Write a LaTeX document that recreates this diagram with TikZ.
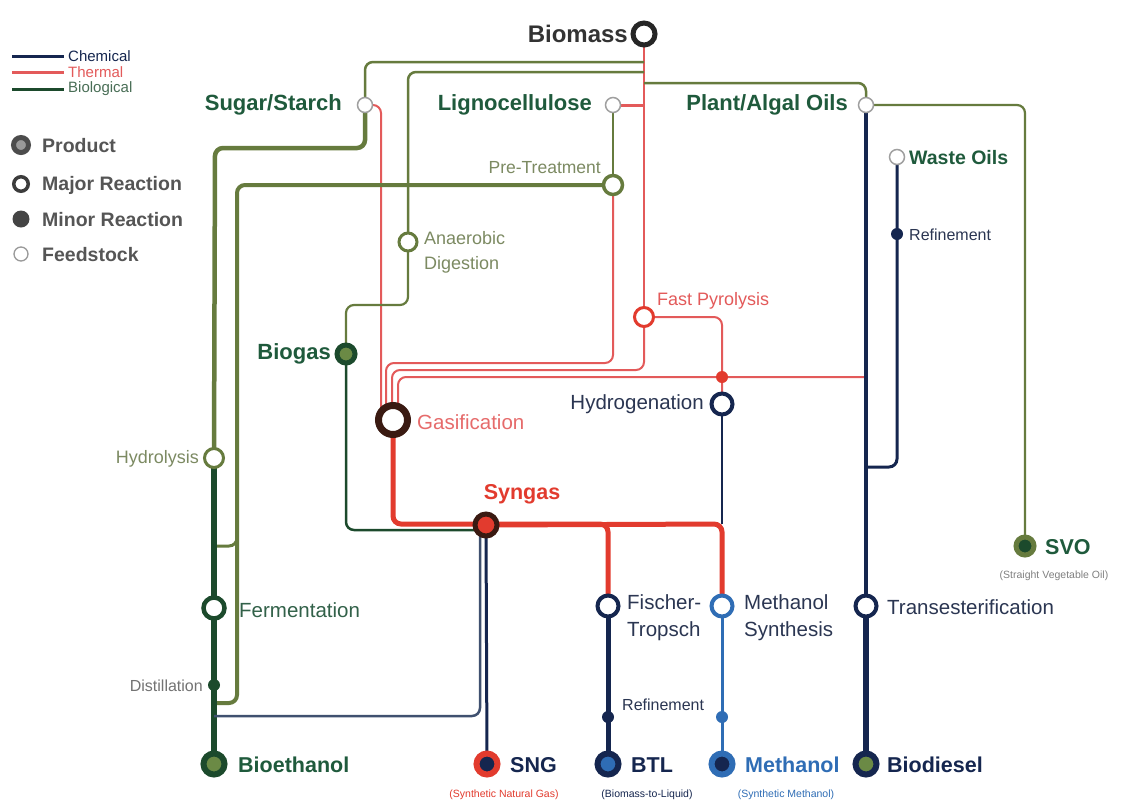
\documentclass[tikz,border=0pt]{standalone}
\usepackage{fontspec}
\setmainfont{Liberation Sans}
\usetikzlibrary{backgrounds}
\definecolor{navy}{HTML}{15264F}
\definecolor{rd}{HTML}{E23B2E}
\definecolor{lrd}{HTML}{E35A5A}
\definecolor{olv}{HTML}{667B3E}
\definecolor{dkg}{HTML}{1C4A2C}
\definecolor{tgreen}{HTML}{1F5A3C}
\definecolor{blu}{HTML}{2F6DB5}
\definecolor{slate}{HTML}{3F506F}
\definecolor{lgrey}{HTML}{555555}
\definecolor{olvtxt}{HTML}{7C8A62}
\definecolor{brn}{HTML}{3A1A12}
\definecolor{navytxt}{HTML}{2B3652}
\definecolor{prodfill}{HTML}{6B8A45}
\begin{document}
\begin{tikzpicture}[x=1pt,y=-1pt,
  major/.style={circle, draw=#1, line width=4pt, fill=white, minimum size=21pt, inner sep=0pt},
  feed/.style={circle, draw=gray!75, line width=1.5pt, fill=white, minimum size=15pt, inner sep=0pt},
  minor/.style={circle, fill=#1, minimum size=12pt, inner sep=0pt},
  prod/.style 2 args={circle, draw=#1, fill=#2, line width=6pt, minimum size=21pt, inner sep=0pt},
  lblbig/.style={font=\fontsize{22}{24}\selectfont\bfseries, text=tgreen, inner sep=0pt},
  lblprod/.style={font=\fontsize{21.5}{24}\selectfont\bfseries, inner sep=0pt},
  lblmid/.style={font=\fontsize{20.5}{27}\selectfont, inner sep=0pt, align=left},
  lblsml/.style={font=\fontsize{18}{25}\selectfont, inner sep=0pt, align=left},
  lbltiny/.style={font=\fontsize{16}{18}\selectfont, inner sep=0pt},
  lblsub/.style={font=\fontsize{10.5}{12}\selectfont, inner sep=0pt},
  lbllegend/.style={font=\fontsize{19.5}{22}\selectfont\bfseries, text=lgrey, inner sep=0pt, anchor=west},
  lbllegline/.style={font=\fontsize{15}{17}\selectfont, inner sep=0pt, anchor=west},
  ln/.style={line width=#1, rounded corners=8pt},
]
\useasboundingbox (0,0) rectangle (1121,801);

% ---------- legend ----------
\coordinate (lc1) at (12,56); \coordinate (lc2) at (64,56);
\coordinate (lt1) at (12,72); \coordinate (lt2) at (64,72);
\coordinate (lb1) at (12,89); \coordinate (lb2) at (64,89);
\draw[navy, line width=3pt] (lc1) -- (lc2);
\draw[lrd, line width=3pt] (lt1) -- (lt2);
\draw[dkg, line width=3pt] (lb1) -- (lb2);
\node[lbllegline, text=navy] (tchem) at (68,56) {Chemical};
\node[lbllegline, text=lrd] (ttherm) at (68,72) {Thermal};
\node[lbllegline, text=dkg!80] (tbio) at (68,89) {Biological};
\node[circle, draw=lgrey!90!black, fill=gray!80, line width=5pt, minimum size=15pt, inner sep=0pt] (lprod) at (21,145) {};
\node[circle, draw=lgrey!70!black, fill=white, line width=3.5pt, minimum size=14.5pt, inner sep=0pt] (lmaj) at (21,184) {};
\node[circle, fill=lgrey!80!black, minimum size=17pt, inner sep=0pt] (lmin) at (21,219) {};
\node[circle, draw=gray!80, fill=white, line width=1.3pt, minimum size=14pt, inner sep=0pt] (lfeed) at (21,254) {};
\node[lbllegend] (tprod) at (42,146) {Product};
\node[lbllegend] (tmaj) at (42,185) {Major Reaction};
\node[lbllegend] (tmin) at (42,220) {Minor Reaction};
\node[lbllegend] (tfeed) at (42,255) {Feedstock};

% ---------- station nodes ----------
\node[circle, draw=black!85, fill=white, line width=5pt, minimum size=22pt, inner sep=0pt] (bm) at (644,34) {};
\node[feed] (sugar) at (365,105) {};
\node[feed] (ligno) at (613,105) {};
\node[feed] (plant) at (866,105) {};
\node[feed] (waste) at (897,157) {};
\node[minor=navy] (wref) at (897,234) {};
\node[major=olv, line width=3.5pt, minimum size=19pt] (pt) at (613,185) {};
\node[major=olv, line width=3pt, minimum size=18pt] (ad) at (408,242) {};
\node[major=rd, line width=3pt, minimum size=19pt] (fp) at (644,317) {};
\node[minor=rd] (rdot) at (722,377) {};
\node[major=navy] (hyd) at (722,404) {};
\node[prod={dkg}{prodfill}, line width=5pt, minimum size=18pt] (biogas) at (346,354) {};
\node[circle, draw=brn, fill=white, line width=7pt, minimum size=29pt, inner sep=0pt] (gas) at (393,420) {};
\node[major=olv, line width=3pt, minimum size=19pt] (hydro) at (214,458) {};
\node[prod={brn}{rd}, line width=5pt, minimum size=22pt] (syngas) at (486,525) {};
\node[major=dkg, line width=4.5pt] (ferm) at (214,608) {};
\node[major=navy] (ft) at (608,606) {};
\node[major=blu] (ms) at (722,606) {};
\node[major=navy] (trans) at (866,606) {};
\node[minor=dkg] (dist) at (214,685) {};
\node[minor=navy] (ftref) at (608,717) {};
\node[minor=blu] (msref) at (722,717) {};
\node[prod={dkg}{prodfill}] (bioeth) at (214,764) {};
\node[prod={rd}{navy}] (sng) at (487,764) {};
\node[prod={navy}{blu}] (btl) at (608,764) {};
\node[prod={blu}{navy}] (meth) at (722,764) {};
\node[prod={navy}{prodfill}] (biod) at (866,764) {};
\node[prod={olv}{dkg}, line width=5pt, minimum size=18pt] (svo) at (1025,546) {};

% ---------- junction coordinates ----------
\coordinate (j62) at (644,62);
\coordinate (j72) at (644,72);
\coordinate (j83) at (644,83);
\coordinate (jlig) at (644,105);
\coordinate (jpo) at (866,377);
\coordinate (jwo) at (866,467);
\coordinate (jpt) at (237,530);
\coordinate (jsg) at (480,532);
\coordinate (jbg) at (476,530);

% ---------- connectors ----------
\begin{scope}[on background layer]
  \fill[white] (0,0) rectangle (1121,801);
  % thermal
  \draw[lrd, ln=2.2pt] (bm.center) -- (fp.center);
  \draw[lrd, ln=3pt] (ligno.center) -- (jlig);
  \draw[lrd, ln=2pt] (sugar.center) -- (381,105) -- (381,420) -- (gas.center);
  \draw[lrd, ln=2pt] (pt.center) -- (613,363) -- (386,363) -- (386,425);
  \draw[lrd, ln=2pt] (fp.center) -- (644,370) -- (392,370) -- (392,425);
  \draw[lrd, ln=2pt] (jpo) -- (398,377) -- (398,425);
  \draw[lrd, ln=2pt] (fp.center) -- (722,317) -- (rdot.center) -- (hyd.center);
  \draw[rd, ln=5pt] (gas.center) -- (393,524) -- (608,524) -- (ft.center);
  \draw[rd, ln=5pt] (syngas.center) -- (722,524) -- (ms.center);
  % biological
  \draw[olv, ln=2.5pt] (j62) -- (365,62) -- (sugar.center);
  \draw[olv, ln=2.5pt] (j72) -- (408,72) -- (ad.center);
  \draw[olv, ln=2.5pt] (j83) -- (866,83) -- (plant.center);
  \draw[olv, ln=2.2pt] (plant.center) -- (1025,105) -- (svo.center);
  \draw[olv, ln=4.5pt] (sugar.center) -- (365,148) -- (215,148) -- (hydro.center);
  \draw[olv, ln=2.5pt] (ligno.center) -- (pt.center);
  \draw[olv, ln=4pt] (pt.center) -- (237,185) -- (237,703) -- (214,703);
  \draw[olv, ln=3pt] (jpt) -- (237,546) -- (214,546);
  \draw[olv, ln=2.2pt] (ad.center) -- (408,305) -- (346,305) -- (biogas.center);
  \draw[dkg, ln=6pt] (hydro.center) -- (ferm.center) -- (dist.center) -- (bioeth.center);
  \draw[dkg, ln=2.5pt] (biogas.center) -- (346,530) -- (jbg);
  % chemical
  \draw[navy, ln=2.5pt] (hyd.center) -- (722,524);
  \draw[navy, ln=3pt] (syngas.center) -- (sng.center);
  \draw[slate, ln=2.5pt] (jsg) -- (480,716) -- (214,716);
  \draw[navy, ln=5pt] (ft.center) -- (ftref.center) -- (btl.center);
  \draw[blu, ln=3pt] (ms.center) -- (msref.center) -- (meth.center);
  \draw[navy, ln=4.5pt] (plant.center) -- (trans.center);
  \draw[navy, ln=6pt] (trans.center) -- (biod.center);
  \draw[navy, ln=3pt] (waste.center) -- (wref.center) -- (897,467) -- (jwo);
\end{scope}

% ---------- labels ----------
\node[font=\fontsize{24}{26}\selectfont\bfseries, text=black!80, inner sep=0pt, anchor=east] (tbm) at (628,34) {Biomass};
\node[lblbig, anchor=east] (tsugar) at (342,105) {Sugar/Starch};
\node[lblbig, anchor=east] (tligno) at (592,105) {Lignocellulose};
\node[lblbig, anchor=east] (tplant) at (848,105) {Plant/Algal Oils};
\node[lblbig, font=\fontsize{19.5}{22}\selectfont\bfseries, anchor=west] (twaste) at (909,158) {Waste Oils};
\node[lbltiny, text=navytxt, anchor=west] (twref) at (909,235) {Refinement};
\node[lblsml, font=\fontsize{17.5}{20}\selectfont, text=olvtxt, anchor=east] (tpt) at (601,168) {Pre-Treatment};
\node[lblsml, text=olvtxt, anchor=north west] (tad) at (424,231) {Anaerobic\\Digestion};
\node[lblsml, text=lrd, anchor=west] (tfp) at (657,301) {Fast Pyrolysis};
\node[lblmid, text=navytxt, anchor=east] (thyd) at (704,404) {Hydrogenation};
\node[lblbig, anchor=east] (tbiogas) at (331,354) {Biogas};
\node[lblmid, text=lrd!90!white, anchor=west] (tgas) at (417,422) {Gasification};
\node[lblprod, text=rd] (tsyn) at (522,494) {Syngas};
\node[lblsml, text=olvtxt, anchor=east] (thydro) at (199,459) {Hydrolysis};
\node[lblmid, text=tgreen!80!gray, anchor=west] (tferm) at (239,610) {Fermentation};
\node[lbltiny, text=gray!90!black, anchor=east] (tdist) at (203,686) {Distillation};
\node[lblmid, text=navytxt, anchor=north west] (tft) at (627,594) {Fischer-\\Tropsch};
\node[lblmid, text=navytxt, anchor=north west] (tms) at (744,594) {Methanol\\Synthesis};
\node[lblmid, text=navytxt, anchor=west] (ttrans) at (887,607) {Transesterification};
\node[lbltiny, text=navytxt, anchor=west] (tftref) at (622,705) {Refinement};
\node[lblprod, text=tgreen, anchor=west] (tsvo) at (1045,547) {SVO};
\node[lblsub, text=gray] (tsvosub) at (1054,576) {(Straight Vegetable Oil)};
\node[lblprod, text=tgreen, anchor=west] (tbioeth) at (238,765) {Bioethanol};
\node[lblprod, text=navy, anchor=west] (tsng) at (510,765) {SNG};
\node[lblsub, text=rd] (tsngsub) at (504,795) {(Synthetic Natural Gas)};
\node[lblprod, text=navy, anchor=west] (tbtl) at (631,765) {BTL};
\node[lblsub, text=navy] (tbtlsub) at (647,795) {(Biomass-to-Liquid)};
\node[lblprod, text=blu, anchor=west] (tmeth) at (745,765) {Methanol};
\node[lblsub, text=blu] (tmethsub) at (786,795) {(Synthetic Methanol)};
\node[lblprod, text=navy, anchor=west] (tbiod) at (887,765) {Biodiesel};
\end{tikzpicture}
\end{document}
